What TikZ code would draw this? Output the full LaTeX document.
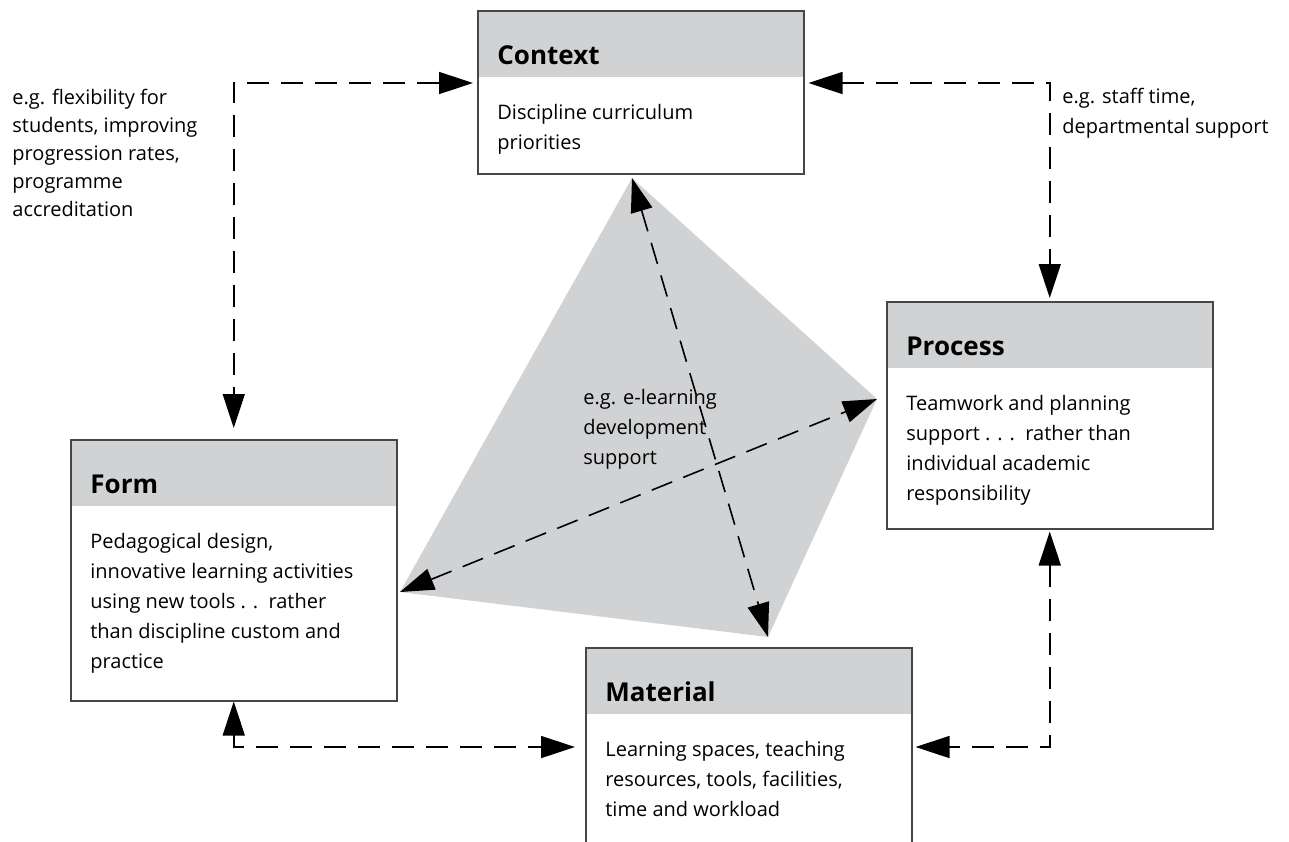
\documentclass[tikz,border=0pt]{standalone}
\usepackage{fontspec}
\setmainfont{Open Sans}
\usetikzlibrary{arrows.meta}
\definecolor{mgray}{RGB}{209, 210, 212}
\definecolor{mline}{RGB}{70, 70, 70}
\tikzset{link/.style = {line width=0.8pt, dash pattern=on 11pt off 6pt,
                        {Triangle[length=17pt, width=11pt]}-{Triangle[length=17pt, width=11pt]}}}
\tikzset{block/.style = {draw=mline, line width=0.75pt, anchor=north west, inner sep=0,
                         minimum width=163pt,
                         path picture={\fill [mgray] (path picture bounding box.north west)
                           rectangle ([yshift=-33pt] path picture bounding box.north east);}}}
\tikzset{head/.style = {anchor=base west, inner sep=0, font=\fontsize{13}{15}\selectfont\bfseries}}
\tikzset{body/.style = {anchor=north west, inner sep=0, align=left, font=\fontsize{10}{15}\selectfont}}

\begin{document}
\begin{tikzpicture}[x=0.5pt, y=-0.5pt]
    \useasboundingbox (0, 0) rectangle (1289, 841);
    \clip (0, 0) rectangle (1289, 841);

    % the grey kite
    \coordinate (kt) at (632, 178);
    \coordinate (kr) at (877, 399);
    \coordinate (kb) at (768, 637);
    \coordinate (kl) at (400, 592);
    \fill [mgray] (kt) -- (kr) -- (kb) -- (kl) -- cycle;

    \node [block, minimum height=81.5pt] (ctx) at (477, 10) {};
    \node [head] (ctxh) at ([shift={(10pt, -27pt)}] ctx.north west) {Context};
    \node [body] (ctxb) at ([shift={(10pt, -47pt)}] ctx.north west) {Discipline curriculum\\priorities};

    \node [block, minimum height=113.5pt] (proc) at (886, 301) {};
    \node [head] (proch) at ([shift={(10pt, -27pt)}] proc.north west) {Process};
    \node [body] (procb) at ([shift={(10pt, -47pt)}] proc.north west)
      {Teamwork and planning\\support . . .\ \ rather than\\individual academic\\responsibility};

    \node [block, minimum height=130.5pt] (form) at (70, 439) {};
    \node [head] (formh) at ([shift={(10pt, -27pt)}] form.north west) {Form};
    \node [body] (formb) at ([shift={(10pt, -47pt)}] form.north west)
      {Pedagogical design,\\innovative learning activities\\using new tools . .\ \ rather\\than discipline custom and\\practice};

    \node [block, minimum height=120pt] (mat) at (585, 647) {};
    \node [head] (math) at ([shift={(10pt, -27pt)}] mat.north west) {Material};
    \node [body] (matb) at ([shift={(10pt, -47pt)}] mat.north west)
      {Learning spaces, teaching\\resources, tools, facilities,\\time and workload};

    % labels
    \node [body, font=\fontsize{10}{14}\selectfont] (lform) at (12, 89)
      {e.g. flexibility for\\students, improving\\progression rates,\\programme\\accreditation};
    \node [body] (lproc) at (1062, 88) {e.g. staff time,\\departmental support};
    \node [body] (lmid) at (583, 389) {e.g. e-learning\\development\\support};

    % connectors
    \draw [link, shorten <=2pt, shorten >=5.5pt] ([yshift=-36.5pt] ctx.north west) -| (form.north);
    \draw [link, shorten <=2pt, shorten >=1.5pt] ([yshift=-36.5pt] ctx.north east) -| (proc.north);
    \draw [link, shorten >=5pt] (form.south) |- ([yshift=-50pt] mat.north west);
    \draw [link, shorten <=1pt, shorten >=1.5pt] (proc.south) |- ([yshift=-50pt] mat.north east);
    \draw [link] (kt) -- (kb);
    \draw [link] (kl) -- (kr);
\end{tikzpicture}
\end{document}
